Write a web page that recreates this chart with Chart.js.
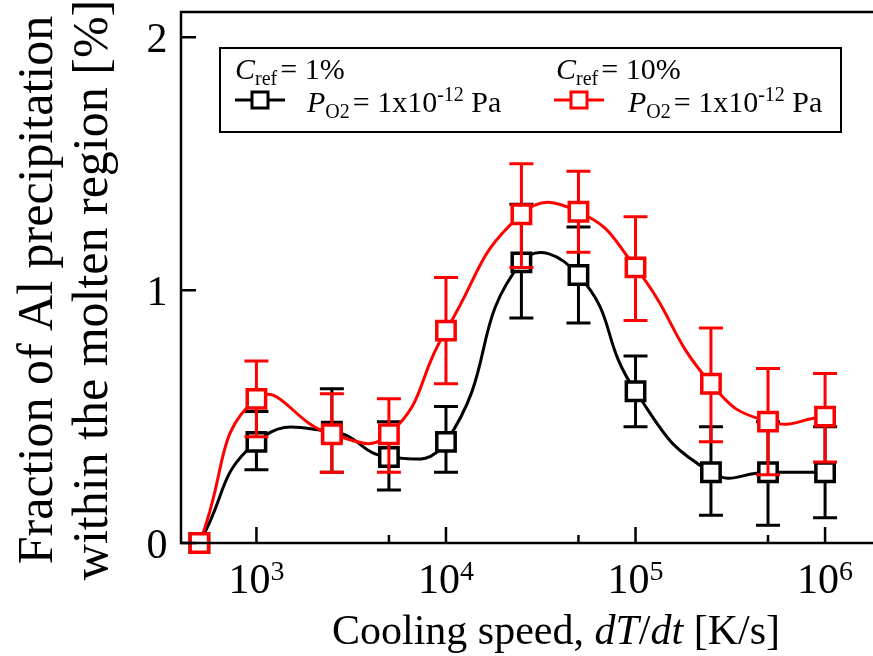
<!DOCTYPE html>
<html>
<head>
<meta charset="utf-8">
<script src="https://cdn.jsdelivr.net/npm/chart.js@4"></script>
<style>
  body { margin: 0; background: #fff; }
  canvas { display: block; }
</style>
</head>
<body>
<canvas id="myChart" width="873" height="656"></canvas>
<script>
// cooling speed [K/s]
const speeds = [500, 1000, 2500, 5000, 10000, 25000, 50000, 100000, 250000, 500000, 1000000];

// Cref = 1%
const frac1 = [0, 0.40, 0.44, 0.34, 0.40, 1.11, 1.06, 0.60, 0.28, 0.28, 0.28];
const hi1 = [0, 0.52, 0.61, 0.48, 0.54, 1.34, 1.25, 0.74, 0.46, 0.48, 0.46];
const lo1 = [0, 0.29, 0.28, 0.21, 0.28, 0.89, 0.87, 0.46, 0.11, 0.07, 0.10];

// Cref = 10%
const frac10 = [0, 0.57, 0.43, 0.43, 0.84, 1.30, 1.31, 1.09, 0.63, 0.48, 0.50];
const hi10 = [0, 0.72, 0.59, 0.57, 1.05, 1.50, 1.47, 1.29, 0.85, 0.69, 0.67];
const lo10 = [0, 0.42, 0.28, 0.28, 0.63, 1.09, 1.15, 0.88, 0.40, 0.27, 0.32];

const xDecades = [1e3, 1e4, 1e5, 1e6];
const xExps = ['3', '4', '5', '6'];
const xMinor = [5e3, 5e4, 5e5];
const yTicks = [0, 1, 2];

const SERIF = "'Liberation Serif', 'Times New Roman', serif";

function pts(vals) {
	return speeds.map((s, i) => ({ x: s, y: vals[i] }));
}

// draws pieces of text one after another (for sub / superscripts)
function rich(ctx, x, y, parts, align) {
	let w = 0;
	parts.forEach(p => {
		ctx.font = (p.italic ? 'italic ' : '') + p.size + 'px ' + SERIF;
		p.w = ctx.measureText(p.t).width + (p.dx || 0);
		w += p.w;
	});
	let cx = align === 'center' ? x - w / 2 : x;
	ctx.textAlign = 'left';
	ctx.textBaseline = 'alphabetic';
	parts.forEach(p => {
		ctx.font = (p.italic ? 'italic ' : '') + p.size + 'px ' + SERIF;
		ctx.fillText(p.t, cx + (p.dx || 0), y + (p.dy || 0));
		cx += p.w;
	});
}

function marker(ctx, x, y, color) {
	ctx.strokeStyle = color;
	ctx.lineWidth = 3;
	ctx.beginPath();
	ctx.moveTo(x - 25, y);
	ctx.lineTo(x + 25, y);
	ctx.stroke();
	ctx.fillStyle = '#fff';
	ctx.fillRect(x - 8, y - 8, 16, 16);
	ctx.strokeRect(x - 8, y - 8, 16, 16);
}

const errorBars = {
	id: 'errorBars',
	beforeDatasetDraw(chart, args) {
		const ds = chart.data.datasets[args.index];
		const ctx = chart.ctx;
		const xs = chart.scales.x;
		const ys = chart.scales.y;
		ctx.save();
		ctx.strokeStyle = ds.borderColor;
		ctx.lineWidth = 3;
		speeds.forEach((s, i) => {
			if (ds.errHi[i] === ds.errLo[i]) return;
			const px = xs.getPixelForValue(s);
			const top = ys.getPixelForValue(ds.errHi[i]);
			const bot = ys.getPixelForValue(ds.errLo[i]);
			ctx.beginPath();
			ctx.moveTo(px, top);
			ctx.lineTo(px, bot);
			ctx.moveTo(px - 12, top);
			ctx.lineTo(px + 12, top);
			ctx.moveTo(px - 12, bot);
			ctx.lineTo(px + 12, bot);
			ctx.stroke();
		});
		ctx.restore();
	}
};

const frame = {
	id: 'frame',
	afterDraw(chart) {
		const ctx = chart.ctx;
		const a = chart.chartArea;
		const xs = chart.scales.x;
		const ys = chart.scales.y;
		ctx.save();
		ctx.strokeStyle = '#000';
		ctx.lineWidth = 2.5;
		ctx.beginPath();
		ctx.moveTo(a.right + 2, a.top);
		ctx.lineTo(a.left, a.top);
		ctx.lineTo(a.left, a.bottom);
		ctx.lineTo(a.right + 2, a.bottom);
		ctx.stroke();

		// inward ticks
		ctx.beginPath();
		xDecades.forEach(v => {
			const px = xs.getPixelForValue(v);
			ctx.moveTo(px, a.bottom);
			ctx.lineTo(px, a.bottom - 16);
		});
		xMinor.forEach(v => {
			const px = xs.getPixelForValue(v);
			ctx.moveTo(px, a.bottom);
			ctx.lineTo(px, a.bottom - 8);
		});
		yTicks.forEach(v => {
			const py = ys.getPixelForValue(v);
			ctx.moveTo(a.left, py);
			ctx.lineTo(a.left + 15, py);
		});
		ctx.stroke();

		ctx.fillStyle = '#000';
		// tick labels
		xDecades.forEach((v, i) => {
			const px = xs.getPixelForValue(v);
			rich(ctx, px, 593, [
				{ t: '10', size: 42 },
				{ t: xExps[i], size: 28, dy: -13 }
			], 'center');
		});
		ctx.font = '42px ' + SERIF;
		ctx.textAlign = 'center';
		ctx.textBaseline = 'alphabetic';
		yTicks.forEach(v => {
			ctx.fillText(String(v), 157, ys.getPixelForValue(v) + 15);
		});

		// axis titles
		rich(ctx, 556, 644, [
			{ t: 'Cooling speed, ', size: 42 },
			{ t: 'dT', size: 42, italic: true },
			{ t: '/', size: 42 },
			{ t: 'dt', size: 42, italic: true },
			{ t: ' [K/s]', size: 42 }
		], 'center');

		ctx.save();
		ctx.translate(0, 290);
		ctx.rotate(-Math.PI / 2);
		ctx.font = '50px ' + SERIF;
		ctx.textAlign = 'center';
		ctx.fillText('Fraction of Al precipitation', 0, 52);
		ctx.fillText('within the molten region [%]', 0, 107);
		ctx.restore();

		// legend box
		ctx.lineWidth = 2;
		ctx.strokeStyle = '#000';
		ctx.strokeRect(220, 48, 621, 84);

		rich(ctx, 235, 79, [
			{ t: 'C', size: 30, italic: true },
			{ t: 'ref', size: 20, dy: 6 },
			{ t: '= 1%', size: 30, dx: 3 }
		]);
		rich(ctx, 556, 79, [
			{ t: 'C', size: 30, italic: true },
			{ t: 'ref', size: 20, dy: 6 },
			{ t: '= 10%', size: 30, dx: 3 }
		]);
		const pLine = [
			{ t: 'P', size: 30, italic: true },
			{ t: 'O2', size: 20, dy: 6 },
			{ t: '= 1x10', size: 30, dx: 3 },
			{ t: '-12', size: 20, dy: -11 },
			{ t: ' Pa', size: 30 }
		];
		rich(ctx, 307, 112, pLine);
		rich(ctx, 628, 112, pLine);
		marker(ctx, 260, 100, '#000');
		marker(ctx, 579, 100, '#ff0000');
		ctx.restore();
	}
};

const ctx1 = document.getElementById('myChart');

new Chart(ctx1, {
	type: 'line',
	data: {
		datasets: [{
			label: 'Cref = 1%',
			data: pts(frac1),
			errHi: hi1,
			errLo: lo1,
			borderColor: '#000000',
			borderWidth: 3,
			tension: 0.5,
			pointStyle: 'rect',
			pointRadius: 13,
			pointBorderWidth: 3.5,
			pointBorderColor: '#000000',
			pointBackgroundColor: '#ffffff',
			clip: false,
			order: 2,
		}, {
			label: 'Cref = 10%',
			data: pts(frac10),
			errHi: hi10,
			errLo: lo10,
			borderColor: '#ff0000',
			borderWidth: 3,
			tension: 0.5,
			pointStyle: 'rect',
			pointRadius: 13,
			pointBorderWidth: 3.5,
			pointBorderColor: '#ff0000',
			pointBackgroundColor: '#ffffff',
			clip: false,
			order: 1,
		}]
	},
	options: {
		responsive: false,
		animation: false,
		events: [],
		layout: {
			autoPadding: false,
			padding: { top: 12, left: 0, right: 0, bottom: 0 }
		},
		plugins: {
			legend: { display: false },
			tooltip: { enabled: false }
		},
		scales: {
			x: {
				type: 'logarithmic',
				min: 400,
				max: 1.79e6,
				ticks: { display: false },
				grid: { display: false },
				border: { display: false },
				afterFit: s => { s.height = 113; }
			},
			y: {
				min: 0,
				max: 2.1,
				ticks: { display: false },
				grid: { display: false },
				border: { display: false },
				afterFit: s => { s.width = 181; }
			}
		}
	},
	plugins: [errorBars, frame]
});
</script>
</body>
</html>
